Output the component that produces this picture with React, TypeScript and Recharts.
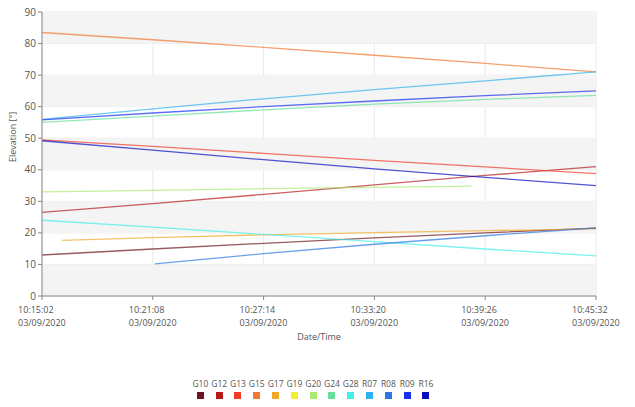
import React from "react";
import { LineChart, Line, XAxis, YAxis, CartesianGrid, ReferenceArea } from "recharts";

// seconds after 10:15:02
const times = [0, 66, 366, 373, 732, 1098, 1418, 1464, 1830];

const G10 = [13, null, 14.9, null, 16.7, 18.4, null, 20.0, 21.5];
const G12 = [26.5, null, 29.3, null, 32.2, 35.2, null, 38.2, 41];
const G13 = [49.5, null, 47.4, null, 45.2, 43.0, null, 40.9, 38.8];
const G15 = [83.5, null, 81.2, null, 78.8, 76.3, null, 73.7, 71];
const G17 = [null, 17.6, 18.5, null, 19.4, 20.1, null, 20.7, 21.3];
const G19: (number | null)[] = [null, null, null, null, null, null, null, null, null];
const G20 = [33, null, 33.5, null, 34.0, 34.4, 34.8, null, null];
const G24 = [55, null, 57, null, 59, 60.8, null, 62.3, 63.6];
const G28 = [24, null, 21.8, null, 19.5, 17.2, null, 14.9, 12.7];
const R07 = [56, null, 59.3, null, 62.5, 65.4, null, 68.2, 71];
const R08 = [null, null, null, 10.2, 13.4, 16.4, null, 19.1, 21.6];
const R09 = [55.8, null, 58, null, 60, 61.8, null, 63.5, 65];
const R16 = [49.2, null, 46.2, null, 43.2, 40.3, null, 37.6, 35];

const seriesNames = ["G10", "G12", "G13", "G15", "G17", "G19", "G20", "G24", "G28", "R07", "R08", "R09", "R16"];
const seriesValues = [G10, G12, G13, G15, G17, G19, G20, G24, G28, R07, R08, R09, R16];
const seriesColors = [
  "#6e1420", "#b81a1a", "#f03c28", "#f07a30", "#f0aa28", "#f0f030", "#a8ea70",
  "#64e09a", "#40f0e6", "#30b0f0", "#2a78e6", "#1a30f0", "#0a0ac0",
];

const xTicks = [0, 366, 732, 1098, 1464, 1830];
const xTickTimes = ["10:15:02", "10:21:08", "10:27:14", "10:33:20", "10:39:26", "10:45:32"];
const xTickDate = "03/09/2020";
const yTicks = [0, 10, 20, 30, 40, 50, 60, 70, 80, 90];
const bands = [0, 20, 40, 60, 80];

const font = "'Open Sans', 'Noto Sans', sans-serif";

const chartData = times.map((t, i) => {
  const row: any = { t };
  seriesNames.forEach((name, s) => {
    row[name] = seriesValues[s][i];
  });
  return row;
});

function TimeTick({ x, y, payload }: any) {
  const idx = xTicks.indexOf(payload.value);
  return (
    <text x={x - 24} y={y + 11} fill="#555" fontSize={9} fontFamily={font} textAnchor="start">
      <tspan x={x - 24}>{xTickTimes[idx]}</tspan>
      <tspan x={x - 24} dy={13}>{xTickDate}</tspan>
    </text>
  );
}

function ChartLegend() {
  return (
    <div style={{ position: "absolute", left: 187, top: 375, display: "flex", fontFamily: font }}>
      {seriesNames.map((name, i) => (
        <div key={name} style={{ width: 18.8, display: "flex", flexDirection: "column", alignItems: "center" }}>
          <span style={{ fontSize: 8.5, color: "#555", lineHeight: "10px" }}>{name}</span>
          <div style={{ width: 7, height: 7, marginTop: 3, backgroundColor: seriesColors[i] }} />
        </div>
      ))}
    </div>
  );
}

export default function App() {
  return (
    <div style={{ position: "relative", width: 627, height: 395, margin: "-4px 0 0 -4px" }}>
      <LineChart
        width={627}
        height={395}
        data={chartData}
        margin={{ top: 8, right: 35, left: 0, bottom: 55 }}
      >
        {bands.map((b) => (
          <ReferenceArea key={b} y1={b} y2={b + 10} fill="#f4f4f4" fillOpacity={1} stroke="none" ifOverflow="visible" />
        ))}
        <CartesianGrid stroke="#e4e4e4" strokeWidth={0.8} />
        <XAxis
          dataKey="t"
          type="number"
          domain={[0, 1830]}
          ticks={xTicks}
          tick={<TimeTick />}
          stroke="#888"
          tickSize={4}
          height={48}
          label={{ value: "Date/Time", position: "insideBottom", offset: 4, fill: "#555", fontSize: 9, fontFamily: font }}
        />
        <YAxis
          type="number"
          domain={[0, 90]}
          ticks={yTicks}
          width={38}
          stroke="#888"
          tickSize={4}
          tick={{ fill: "#555", fontSize: 10, fontFamily: font }}
          label={{ value: "Elevation [°]", angle: -90, position: "insideLeft", offset: 9, dy: 8, fill: "#555", fontSize: 9, fontFamily: font }}
        />
        {seriesNames.map((name, i) => (
          <Line
            key={name}
            dataKey={name}
            stroke={seriesColors[i]}
            strokeOpacity={0.7}
            strokeWidth={1.3}
            dot={false}
            connectNulls
            isAnimationActive={false}
          />
        ))}
      </LineChart>
      <ChartLegend />
    </div>
  );
}
